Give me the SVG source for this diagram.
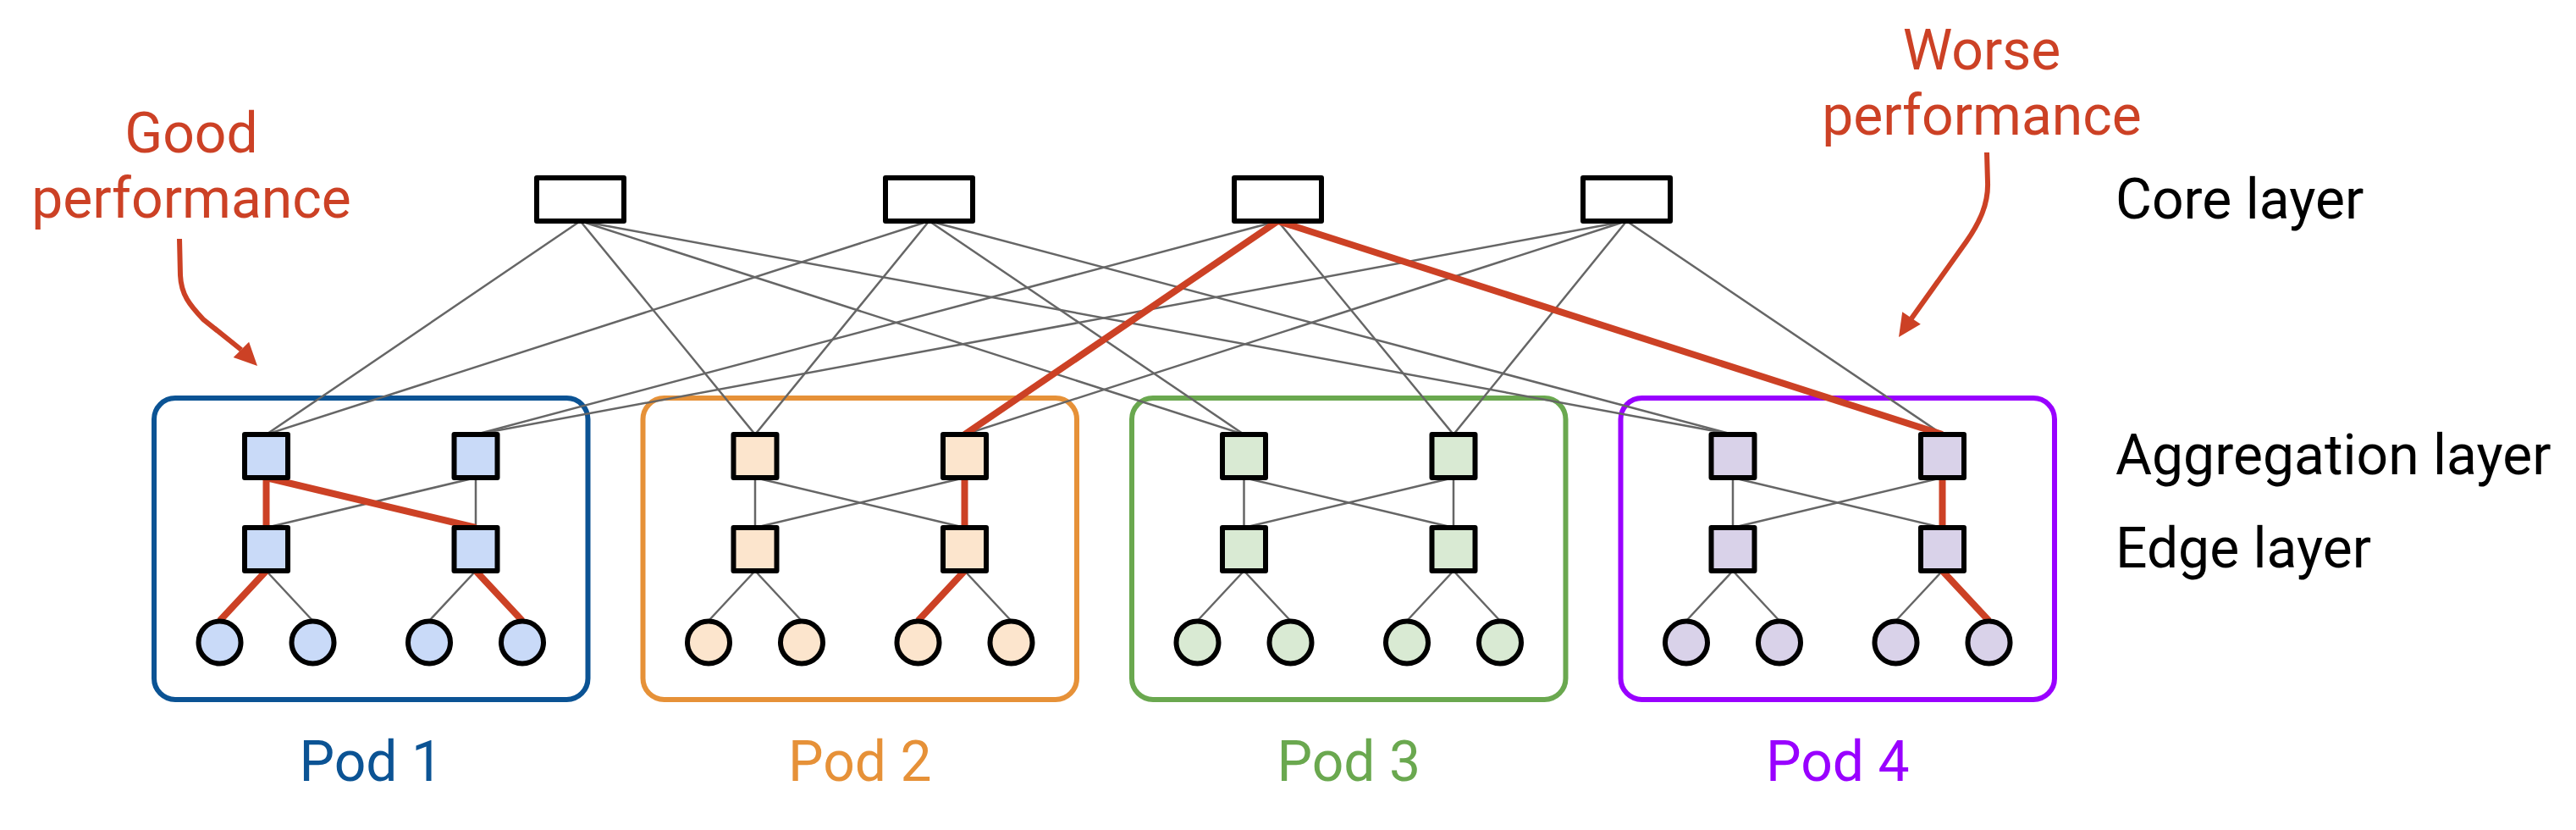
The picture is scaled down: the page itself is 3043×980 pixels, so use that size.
<svg xmlns="http://www.w3.org/2000/svg" width="3043" height="980" viewBox="0 0 3043 980">
<style>
text{font-family:Roboto,"Liberation Sans",sans-serif;font-size:66px}
.lbl{fill:#000000}
.ann{fill:#cc4125;text-anchor:middle}
.pod{fill:none;stroke-width:6}
.pl{text-anchor:middle}
.g{stroke:#666666;stroke-width:2.5;fill:none}
.r{stroke:#cc4125;stroke-width:8;fill:none}
.sw{stroke:#000000;stroke-width:6;stroke-linejoin:round}
.core{fill:#ffffff}
.p1{fill:#c9daf8}.p2{fill:#fce5cd}.p3{fill:#d9ead3}.p4{fill:#d9d2e9}
.arr{stroke:#cc4125;stroke-width:6;fill:none}
</style>
<rect width="3043" height="980" fill="#ffffff"/>

<g id="pod1"><rect class="pod" x="182" y="470" width="512.5" height="356" rx="25" stroke="#0b5394"/><text class="pl" x="438.25" y="922" fill="#0b5394">Pod 1</text></g>
<g id="pod2"><rect class="pod" x="759.5" y="470" width="512.5" height="356" rx="25" stroke="#e69138"/><text class="pl" x="1015.75" y="922" fill="#e69138">Pod 2</text></g>
<g id="pod3"><rect class="pod" x="1337" y="470" width="512.5" height="356" rx="25" stroke="#6aa84f"/><text class="pl" x="1593.25" y="922" fill="#6aa84f">Pod 3</text></g>
<g id="pod4"><rect class="pod" x="1914.5" y="470" width="512.5" height="356" rx="25" stroke="#9900ff"/><text class="pl" x="2170.75" y="922" fill="#9900ff">Pod 4</text></g>

<g id="connectors">
<g class="g">
<path d="M685.5 261L314.5 513M685.5 261L892 513M685.5 261L1469.5 513M685.5 261L2047 513"/>
<path d="M1097.5 261L314.5 513M1097.5 261L892 513M1097.5 261L1469.5 513M1097.5 261L2047 513"/>
<path d="M1509.5 261L562 513M1509.5 261L1717 513"/>
<path d="M1921.5 261L562 513M1921.5 261L1139.5 513M1921.5 261L1717 513M1921.5 261L2294.5 513"/>
<path d="M562 564L314.5 623M562 564L562 623M314.5 674L369.5 733M562 674L507 733"/>
<path d="M892 564L892 623M892 564L1139.5 623M1139.5 564L892 623M892 674L837 733M892 674L947 733M1139.5 674L1194.5 733"/>
<path d="M1469.5 564L1469.5 623M1469.5 564L1717 623M1717 564L1469.5 623M1717 564L1717 623M1469.5 674L1414.5 733M1469.5 674L1524.5 733M1717 674L1662 733M1717 674L1772 733"/>
<path d="M2047 564L2047 623M2047 564L2294.5 623M2294.5 564L2047 623M2047 674L1992 733M2047 674L2102 733M2294.5 674L2239.5 733"/>
</g>
<g class="r">
<path d="M1509.5 261L1139.5 513M1509.5 261L2294.5 513"/>
<path d="M314.5 564L314.5 623M314.5 564L562 623M314.5 674L259.5 733M562 674L617 733"/>
<path d="M1139.5 564L1139.5 623M1139.5 674L1084.5 733"/>
<path d="M2294.5 564L2294.5 623M2294.5 674L2349.5 733"/>
</g>
</g>

<g id="core1"><rect class="sw core" x="634" y="210" width="103" height="51"/></g>
<g id="core2"><rect class="sw core" x="1046" y="210" width="103" height="51"/></g>
<g id="core3"><rect class="sw core" x="1458" y="210" width="103" height="51"/></g>
<g id="core4"><rect class="sw core" x="1870" y="210" width="103" height="51"/></g>

<g id="pod1-agg1"><rect class="sw p1" x="289" y="513" width="51" height="51"/></g>
<g id="pod1-agg2"><rect class="sw p1" x="536.5" y="513" width="51" height="51"/></g>
<g id="pod1-edge1"><rect class="sw p1" x="289" y="623" width="51" height="51"/></g>
<g id="pod1-edge2"><rect class="sw p1" x="536.5" y="623" width="51" height="51"/></g>
<g id="pod1-host1"><circle class="sw p1" cx="259.5" cy="758.5" r="25"/></g>
<g id="pod1-host2"><circle class="sw p1" cx="369.5" cy="758.5" r="25"/></g>
<g id="pod1-host3"><circle class="sw p1" cx="507" cy="758.5" r="25"/></g>
<g id="pod1-host4"><circle class="sw p1" cx="617" cy="758.5" r="25"/></g>

<g id="pod2-agg1"><rect class="sw p2" x="866.5" y="513" width="51" height="51"/></g>
<g id="pod2-agg2"><rect class="sw p2" x="1114" y="513" width="51" height="51"/></g>
<g id="pod2-edge1"><rect class="sw p2" x="866.5" y="623" width="51" height="51"/></g>
<g id="pod2-edge2"><rect class="sw p2" x="1114" y="623" width="51" height="51"/></g>
<g id="pod2-host1"><circle class="sw p2" cx="837" cy="758.5" r="25"/></g>
<g id="pod2-host2"><circle class="sw p2" cx="947" cy="758.5" r="25"/></g>
<g id="pod2-host3"><circle class="sw p2" cx="1084.5" cy="758.5" r="25"/></g>
<g id="pod2-host4"><circle class="sw p2" cx="1194.5" cy="758.5" r="25"/></g>

<g id="pod3-agg1"><rect class="sw p3" x="1444" y="513" width="51" height="51"/></g>
<g id="pod3-agg2"><rect class="sw p3" x="1691.5" y="513" width="51" height="51"/></g>
<g id="pod3-edge1"><rect class="sw p3" x="1444" y="623" width="51" height="51"/></g>
<g id="pod3-edge2"><rect class="sw p3" x="1691.5" y="623" width="51" height="51"/></g>
<g id="pod3-host1"><circle class="sw p3" cx="1414.5" cy="758.5" r="25"/></g>
<g id="pod3-host2"><circle class="sw p3" cx="1524.5" cy="758.5" r="25"/></g>
<g id="pod3-host3"><circle class="sw p3" cx="1662" cy="758.5" r="25"/></g>
<g id="pod3-host4"><circle class="sw p3" cx="1772" cy="758.5" r="25"/></g>

<g id="pod4-agg1"><rect class="sw p4" x="2021.5" y="513" width="51" height="51"/></g>
<g id="pod4-agg2"><rect class="sw p4" x="2269" y="513" width="51" height="51"/></g>
<g id="pod4-edge1"><rect class="sw p4" x="2021.5" y="623" width="51" height="51"/></g>
<g id="pod4-edge2"><rect class="sw p4" x="2269" y="623" width="51" height="51"/></g>
<g id="pod4-host1"><circle class="sw p4" cx="1992" cy="758.5" r="25"/></g>
<g id="pod4-host2"><circle class="sw p4" cx="2102" cy="758.5" r="25"/></g>
<g id="pod4-host3"><circle class="sw p4" cx="2239.5" cy="758.5" r="25"/></g>
<g id="pod4-host4"><circle class="sw p4" cx="2349.5" cy="758.5" r="25"/></g>

<g id="layer-labels">
<text class="lbl" x="2499" y="258">Core layer</text>
<text class="lbl" x="2499" y="560">Aggregation layer</text>
<text class="lbl" x="2499" y="670">Edge layer</text>
</g>

<g id="good-annotation">
<text class="ann" x="226" y="180">Good</text>
<text class="ann" x="226" y="257">performance</text>
<path class="arr" d="M212 282L213 325C214 348 224 360 240 377L285 413"/>
<polygon fill="#cc4125" points="304,432 275.7,422.1 294.1,403.7"/>
</g>

<g id="worse-annotation">
<text class="ann" x="2341" y="82">Worse</text>
<text class="ann" x="2341" y="159">performance</text>
<path class="arr" d="M2347 180L2348 215C2349 240 2339 262 2323 285L2258 376"/>
<polygon fill="#cc4125" points="2243,398 2268.8,382.7 2247.2,368.3"/>
</g>
</svg>
